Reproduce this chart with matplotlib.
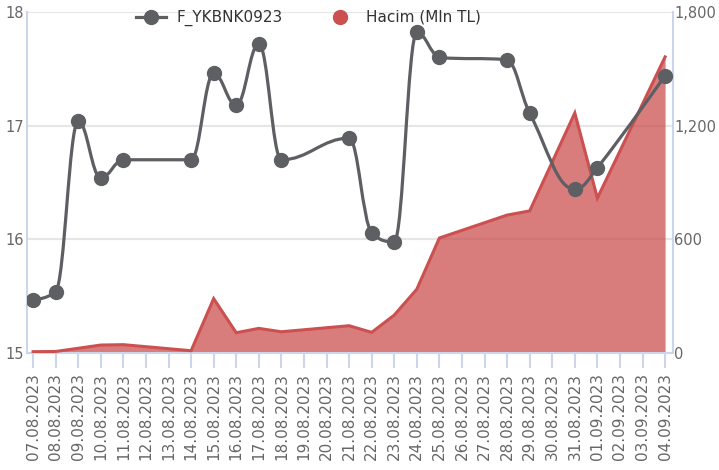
import matplotlib
matplotlib.use("Agg")
import matplotlib.pyplot as plt
import numpy as np
from matplotlib.path import Path
from matplotlib.patches import PathPatch
from matplotlib.lines import Line2D

# Data
dates = ["07.08.2023", "08.08.2023", "09.08.2023", "10.08.2023", "11.08.2023",
         "12.08.2023", "13.08.2023", "14.08.2023", "15.08.2023", "16.08.2023",
         "17.08.2023", "18.08.2023", "19.08.2023", "20.08.2023", "21.08.2023",
         "22.08.2023", "23.08.2023", "24.08.2023", "25.08.2023", "26.08.2023",
         "27.08.2023", "28.08.2023", "29.08.2023", "30.08.2023", "31.08.2023",
         "01.09.2023", "02.09.2023", "03.09.2023", "04.09.2023"]
price = [15.47, 15.54, 17.04, 16.54, 16.70, None, None, 16.70, 17.46, 17.18,
         17.72, 16.70, None, None, 16.89, 16.06, 15.98, 17.82, 17.60, None,
         None, 17.58, 17.11, None, 16.44, 16.63, None, None, 17.44]
volume = [7, 8, 25, 42, 44, None, None, 12, 287, 107, 130, 112, None, None,
          144, 109, 200, 337, 607, None, None, 728, 750, None, 1267, 818,
          None, None, 1563]

price_name = "F_YKBNK0923"
volume_name = "Hacim (Mln TL)"

gray = "#5d5f63"
red = "#cc5050"
axis_blue = "#ccd6eb"
label_gray = "#666666"


def spline_path(xs, ys, smoothing=1.5):
    # highcharts-like spline through the points
    n = len(xs)
    denom = smoothing + 1
    lc = [None] * n
    rc = [None] * n
    for i in range(1, n - 1):
        px, py = xs[i], ys[i]
        lx, ly = xs[i - 1], ys[i - 1]
        nx, ny = xs[i + 1], ys[i + 1]
        lcx = (smoothing * px + lx) / denom
        lcy = (smoothing * py + ly) / denom
        rcx = (smoothing * px + nx) / denom
        rcy = (smoothing * py + ny) / denom
        corr = 0
        if rcx != lcx:
            corr = (rcy - lcy) * (rcx - px) / (rcx - lcx) + py - rcy
        lcy += corr
        rcy += corr
        if lcy > ly and lcy > py:
            lcy = max(ly, py); rcy = 2 * py - lcy
        elif lcy < ly and lcy < py:
            lcy = min(ly, py); rcy = 2 * py - lcy
        if rcy > ny and rcy > py:
            rcy = max(ny, py); lcy = 2 * py - rcy
        elif rcy < ny and rcy < py:
            rcy = min(ny, py); lcy = 2 * py - rcy
        lc[i] = (lcx, lcy)
        rc[i] = (rcx, rcy)
    verts = [(xs[0], ys[0])]
    codes = [Path.MOVETO]
    for i in range(1, n):
        c1 = rc[i - 1] if rc[i - 1] is not None else (xs[i - 1], ys[i - 1])
        c2 = lc[i] if lc[i] is not None else (xs[i], ys[i])
        verts += [c1, c2, (xs[i], ys[i])]
        codes += [Path.CURVE4] * 3
    return Path(verts, codes)


x = np.arange(len(dates))
px_idx = np.array([i for i, v in enumerate(price) if v is not None])
py_val = np.array([price[i] for i in px_idx])
vx_idx = np.array([i for i, v in enumerate(volume) if v is not None])
vy_val = np.array([volume[i] for i in vx_idx])

fig = plt.figure(figsize=(7.19, 4.70), dpi=100)
ax2 = fig.add_axes([27 / 719, 1 - 353 / 470, 646 / 719, 341 / 470])
ax = ax2.twinx()
ax.yaxis.tick_left()

# volume area (right axis, drawn underneath)
ax2.fill_between(vx_idx, 0, vy_val, color=red, alpha=0.75, linewidth=0, zorder=2)
ax2.plot(vx_idx, vy_val, color=red, lw=2.2, zorder=3, solid_joinstyle="miter")
ax2.set_ylim(0, 1800)
ax2.set_yticks([0, 600, 1200, 1800])
ax2.set_yticklabels(["0", "600", "1,200", "1,800"])
ax2.yaxis.tick_right()
ax2.grid(axis="y", color="#e6e6e6", lw=1.5, zorder=0)
ax2.set_axisbelow(True)

# price line (left axis, on top)
ax.set_zorder(ax2.get_zorder() + 1)
ax.patch.set_visible(False)
ax.add_patch(PathPatch(spline_path(px_idx, py_val), facecolor="none",
                       edgecolor=gray, lw=2.3, zorder=4))
ax.plot(px_idx, py_val, "o", color=gray, ms=10, zorder=5)
ax.set_ylim(15, 18)
ax.set_yticks([15, 16, 17, 18])

ax2.set_xlim(-0.27, 28.35)
ax2.set_xticks(x)
ax2.set_xticklabels(dates, rotation=90)

for a in (ax, ax2):
    for s in a.spines.values():
        s.set_visible(False)
ax2.spines["bottom"].set_visible(True)
ax2.spines["bottom"].set_color(axis_blue)
ax2.spines["bottom"].set_linewidth(1.5)
ax2.spines["left"].set_visible(True)
ax2.spines["left"].set_color(axis_blue)
ax2.spines["left"].set_linewidth(1.5)
ax2.spines["right"].set_visible(True)
ax2.spines["right"].set_color(axis_blue)
ax2.spines["right"].set_linewidth(1.5)

ax2.tick_params(axis="x", length=11, width=1.5, color=axis_blue, pad=3.5,
                labelsize=11, labelcolor=label_gray)
ax2.tick_params(axis="y", length=0, pad=1, labelsize=10.5, labelcolor=label_gray)
ax.tick_params(axis="y", length=0, pad=2, labelsize=10.5, labelcolor=label_gray)

handles = [
    Line2D([], [], color=gray, lw=2.3, marker="o", ms=10),
    Line2D([], [], color=red, lw=0, marker="o", ms=10),
]
fig.legend(handles, [price_name, volume_name], loc="center",
           bbox_to_anchor=(308 / 719, 1 - 18 / 470), ncol=2, frameon=False,
           fontsize=11, handlelength=2, handletextpad=0.7, columnspacing=2.7,
           labelcolor="#333333")

fig.savefig("out.png", dpi=100)
